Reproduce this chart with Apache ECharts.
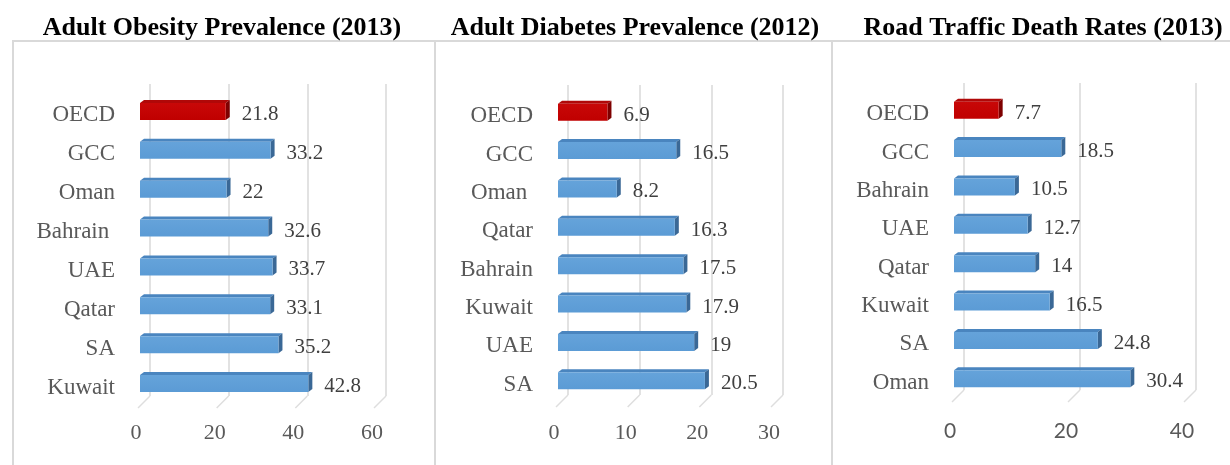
<!DOCTYPE html>
<html>
<head>
<meta charset="utf-8">
<script src="https://cdn.jsdelivr.net/npm/echarts@6/dist/echarts.min.js"></script>
<style>
  html, body { margin: 0; padding: 0; background: #fff; }
  #main { width: 1230px; height: 465px; }
</style>
</head>
<body>
<div id="main"></div>
<script>
// panel titles
var titles = ['Adult Obesity Prevalence (2013)', 'Adult Diabetes Prevalence (2012)', 'Road Traffic Death Rates (2013)'];

// Adult obesity (2013)
var obesityCats = ['OECD', 'GCC', 'Oman', 'Bahrain ', 'UAE', 'Qatar', 'SA', 'Kuwait'];
var obesityVals = [21.8, 33.2, 22, 32.6, 33.7, 33.1, 35.2, 42.8];
var obesityTicks = [0, 20, 40, 60];

// Adult diabetes (2012)
var diabetesCats = ['OECD', 'GCC', 'Oman ', 'Qatar', 'Bahrain', 'Kuwait', 'UAE', 'SA'];
var diabetesVals = [6.9, 16.5, 8.2, 16.3, 17.5, 17.9, 19, 20.5];
var diabetesTicks = [0, 10, 20, 30];

// Road traffic deaths (2013)
var roadCats = ['OECD', 'GCC', 'Bahrain', 'UAE', 'Qatar', 'Kuwait', 'SA', 'Oman'];
var roadVals = [7.7, 18.5, 10.5, 12.7, 14, 16.5, 24.8, 30.4];
var roadTicks = [0, 20, 40];

var chart = echarts.init(document.getElementById('main'));

// layout for each panel: front grid (bars), back grid (wall lines)
var panels = [
  { cats: obesityCats, vals: obesityVals, ticks: obesityTicks, titleX: 222,
    left: 140, width: 236, top: 96, height: 311, backTop: 84, backH: 312, tickFont: '"Liberation Serif"', tickSize: 22, margin: 15 },
  { cats: diabetesCats, vals: diabetesVals, ticks: diabetesTicks, titleX: 635,
    left: 558, width: 215, top: 97, height: 307, backTop: 85, backH: 310, tickFont: '"Liberation Serif"', tickSize: 22, margin: 18 },
  { cats: roadCats, vals: roadVals, ticks: roadTicks, titleX: 1043,
    left: 954, width: 232, top: 95, height: 307, backTop: 83, backH: 307, tickFont: 'Lato', tickSize: 21, margin: 19 }
];

function bar3d(params, api) {
  var v = api.value(0), c = api.value(1);
  var p0 = api.coord([0, c]);
  var p1 = api.coord([v, c]);
  var h = 17, d = 4, dy = 3;
  var x0 = p0[0], x1 = p1[0];
  var y0 = p1[1] - 4 - h / 2;
  var red = c === 0;
  var front = red ? '#C00000' : '#5B9BD5';
  var top = red ? '#B00808' : '#4A85BF';
  var side = red ? '#7E0000' : '#3A6896';
  return {
    type: 'group',
    children: [
      { type: 'polygon', shape: { points: [[x0, y0], [x1, y0], [x1 + d, y0 - dy], [x0 + d, y0 - dy]] }, style: { fill: top } },
      { type: 'polygon', shape: { points: [[x1, y0], [x1 + d, y0 - dy], [x1 + d, y0 + h - dy], [x1, y0 + h]] }, style: { fill: side } },
      { type: 'rect', shape: { x: x0, y: y0, width: x1 - x0, height: h },
        style: { fill: new echarts.graphic.LinearGradient(0, 0, 0, 1, [
          { offset: 0, color: red ? '#C80808' : '#65A3DA' },
          { offset: 1, color: front }
        ]) } },
      { type: 'text', x: x1 + 16, y: p1[1] - 1,
        style: { text: String(v), fill: '#404040', font: '21px "Liberation Serif"', verticalAlign: 'middle', align: 'left' } }
    ]
  };
}

function floorLine(params, api) {
  var p = api.coord([api.value(0), 0]);
  return {
    type: 'line',
    shape: { x1: p[0], y1: p[1], x2: p[0] - 12, y2: p[1] + 12 },
    style: { stroke: '#DEDEDE', lineWidth: 1.5 }
  };
}

var grid = [], xAxis = [], yAxis = [], series = [], graphic = [];

// panel frames
[[13, 435], [435, 832], [832, 1240]].forEach(function (f) {
  graphic.push({ type: 'rect', silent: true, z: -1, shape: { x: f[0], y: 41, width: f[1] - f[0], height: 440 },
    style: { fill: 'none', stroke: '#D9D9D9', lineWidth: 2 } });
});

panels.forEach(function (p, i) {
  var max = p.ticks[p.ticks.length - 1];
  var step = p.ticks[1] - p.ticks[0];
  // front grid
  grid.push({ left: p.left, width: p.width, top: p.top, height: p.height });
  // back wall grid
  grid.push({ left: p.left + 10, width: p.width, top: p.backTop, height: p.backH });

  xAxis.push({
    gridIndex: 2 * i, type: 'value', min: 0, max: max, interval: step,
    axisLine: { show: false }, axisTick: { show: false }, splitLine: { show: false },
    axisLabel: { color: '#595959', fontFamily: p.tickFont, fontSize: p.tickSize, margin: p.margin, padding: [0, 8, 0, 0] }
  });
  xAxis.push({
    gridIndex: 2 * i + 1, type: 'value', min: 0, max: max, interval: step,
    axisLine: { show: false }, axisTick: { show: false }, axisLabel: { show: false },
    splitLine: { show: true, lineStyle: { color: '#D9D9D9', width: 1.5 } }
  });
  yAxis.push({
    gridIndex: 2 * i, type: 'category', inverse: true, data: p.cats,
    axisLine: { show: false }, axisTick: { show: false },
    axisLabel: { color: '#595959', fontFamily: '"Liberation Serif"', fontSize: 23, margin: 25 }
  });
  yAxis.push({
    gridIndex: 2 * i + 1, type: 'value', min: 0, max: 1, show: false
  });

  series.push({
    type: 'custom', xAxisIndex: 2 * i, yAxisIndex: 2 * i,
    renderItem: bar3d, encode: { x: 0, y: 1 },
    data: p.vals.map(function (v, k) { return [v, k]; }), z: 3
  });
  series.push({
    type: 'custom', xAxisIndex: 2 * i + 1, yAxisIndex: 2 * i + 1,
    renderItem: floorLine, encode: { x: 0 }, silent: true,
    data: p.ticks.map(function (t) { return [t]; }), z: 1
  });

  graphic.push({ type: 'text', x: p.titleX, y: 28,
    style: { text: titles[i], font: 'bold 26px "Liberation Serif"', fill: '#000', align: 'center', verticalAlign: 'middle' } });
});

var option = {
  backgroundColor: '#fff',
  animation: false,
  grid: grid,
  xAxis: xAxis,
  yAxis: yAxis,
  series: series,
  graphic: graphic
};
option && chart.setOption(option);
</script>
</body>
</html>
